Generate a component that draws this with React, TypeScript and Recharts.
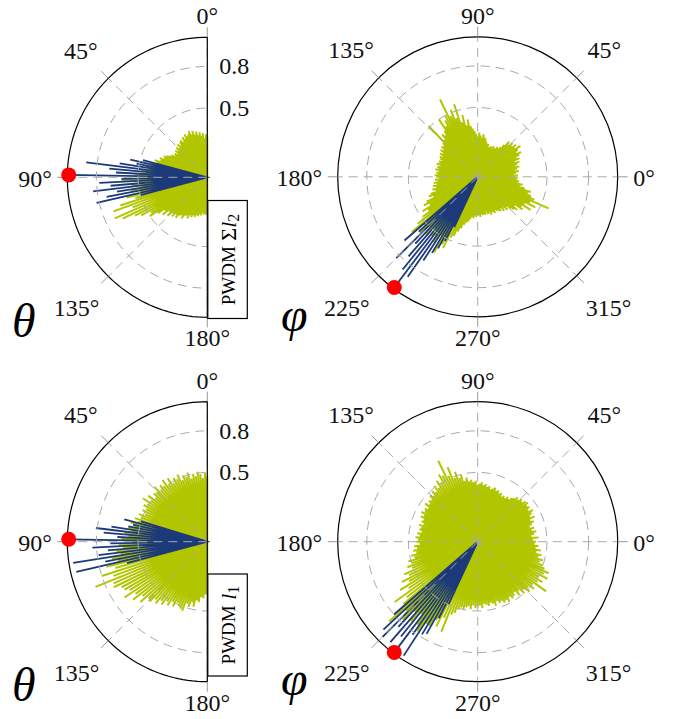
import React from 'react';
import { RadarChart, Radar, PolarGrid, PolarAngleAxis, PolarRadiusAxis } from 'recharts';

// ---------- axes / categories ----------
const R_MAX = 1.01;
const RADIUS_TICKS = [0.5, 0.8];
const THETA_TICKS = [0, 45, 90, 135, 180];
const PHI_TICKS = [0, 45, 90, 135, 180, 225, 270, 315];
const thetaAngles = Array.from({ length: 91 }, (_, i) => i * 2); // 0..180 deg
const phiAngles = Array.from({ length: 180 }, (_, i) => i * 2); // 0..358 deg

// ---------- PWDM Σl2 : theta ----------
const thetaL2Green = [
  0.29, 0.31, 0.28, 0.32, 0.30, 0.33, 0.31, 0.34, 0.32, 0.35,
  0.33, 0.36, 0.34, 0.33, 0.35, 0.32, 0.34, 0.31, 0.33, 0.32,
  0.30, 0.32, 0.29, 0.31, 0.28, 0.30, 0.27, 0.29, 0.28, 0.30,
  0.31, 0.33, 0.35, 0.34, 0.37, 0.36, 0.40, 0.38, 0.42, 0.40,
  0.45, 0.42, 0.48, 0.44, 0.52, 0.47, 0.62, 0.50, 0.55, 0.48,
  0.56, 0.50, 0.60, 0.54, 0.66, 0.72, 0.58, 0.73, 0.68, 0.59,
  0.55, 0.48, 0.50, 0.44, 0.39, 0.42, 0.37, 0.40, 0.36, 0.38,
  0.35, 0.37, 0.34, 0.33, 0.35, 0.32, 0.31, 0.33, 0.30, 0.31,
  0.29, 0.30, 0.28, 0.29, 0.27, 0.28, 0.26, 0.27, 0.26, 0.27,
  0.26,
];
const thetaL2BlueAngles = [75, 77, 79, 81, 83, 85, 87, 89, 91, 93, 95, 97, 99, 101, 103, 105];
const thetaL2Blue = [0.48, 0.57, 0.52, 0.64, 0.88, 0.71, 0.66, 1.0, 0.62, 0.78, 0.70, 0.83, 0.66, 0.74, 0.82, 0.5];

// ---------- PWDM Σl2 : phi ----------
const phiL2Green = [
  0.27, 0.29, 0.26, 0.28, 0.30, 0.27, 0.29, 0.31, 0.28, 0.30,
  0.32, 0.29, 0.33, 0.31, 0.34, 0.36, 0.33, 0.35, 0.38, 0.34,
  0.36, 0.33, 0.35, 0.32, 0.34, 0.30, 0.27, 0.25, 0.26, 0.24,
  0.23, 0.25, 0.22, 0.24, 0.23, 0.22, 0.25, 0.24, 0.26, 0.28,
  0.29, 0.31, 0.28, 0.30, 0.32, 0.29, 0.31, 0.33, 0.35, 0.37,
  0.42, 0.38, 0.46, 0.41, 0.55, 0.45, 0.52, 0.48, 0.62, 0.50,
  0.47, 0.43, 0.50, 0.41, 0.38, 0.40, 0.36, 0.51, 0.35, 0.33,
  0.34, 0.31, 0.33, 0.30, 0.32, 0.29, 0.31, 0.30, 0.28, 0.30,
  0.29, 0.31, 0.28, 0.30, 0.29, 0.31, 0.28, 0.30, 0.29, 0.31,
  0.30, 0.28, 0.31, 0.29, 0.32, 0.30, 0.33, 0.31, 0.34, 0.32,
  0.36, 0.38, 0.35, 0.41, 0.44, 0.40, 0.47, 0.43, 0.49, 0.55,
  0.62, 0.52, 0.58, 0.50, 0.56, 0.48, 0.54, 0.52, 0.57, 0.50,
  0.63, 0.55, 0.57, 0.48, 0.46, 0.42, 0.39, 0.36, 0.34, 0.33,
  0.31, 0.29, 0.30, 0.28, 0.29, 0.27, 0.28, 0.29, 0.27, 0.28,
  0.27, 0.28, 0.26, 0.28, 0.27, 0.29, 0.27, 0.28, 0.29, 0.27,
  0.28, 0.29, 0.30, 0.28, 0.31, 0.29, 0.32, 0.30, 0.33, 0.35,
  0.37, 0.34, 0.40, 0.38, 0.45, 0.39, 0.47, 0.42, 0.56, 0.44,
  0.41, 0.38, 0.40, 0.35, 0.31, 0.33, 0.29, 0.30, 0.28, 0.29,
];
const phiL2BlueAngles = [221, 223, 225, 227, 229, 231, 233, 235, 237, 239, 241, 243, 245];
const phiL2Blue = [0.70, 0.58, 0.83, 0.66, 0.76, 0.86, 1.0, 0.88, 0.72, 0.64, 0.59, 0.52, 0.40];

// ---------- PWDM l1 : theta ----------
const thetaL1Green = [
  0.47, 0.50, 0.46, 0.49, 0.51, 0.48, 0.50, 0.47, 0.52, 0.49,
  0.51, 0.48, 0.53, 0.50, 0.52, 0.49, 0.54, 0.50, 0.55, 0.51,
  0.53, 0.50, 0.55, 0.51, 0.52, 0.49, 0.54, 0.50, 0.56, 0.51,
  0.53, 0.50, 0.52, 0.49, 0.53, 0.51, 0.55, 0.52, 0.57, 0.54,
  0.58, 0.55, 0.60, 0.57, 0.62, 0.59, 0.64, 0.61, 0.66, 0.63,
  0.70, 0.66, 0.75, 0.69, 0.80, 0.72, 0.87, 0.74, 0.75, 0.70,
  0.69, 0.66, 0.72, 0.64, 0.68, 0.61, 0.65, 0.59, 0.60, 0.56,
  0.58, 0.54, 0.56, 0.52, 0.54, 0.50, 0.53, 0.49, 0.51, 0.52,
  0.53, 0.47, 0.49, 0.45, 0.48, 0.43, 0.44, 0.40, 0.41, 0.38,
  0.38,
];
const thetaL1BlueAngles = [73, 75, 77, 79, 81, 83, 85, 87, 89, 91, 93, 95, 97, 99, 101, 103, 105];
const thetaL1Blue = [0.50, 0.62, 0.55, 0.58, 0.70, 0.81, 0.75, 0.65, 1.0, 0.70, 0.83, 0.72, 0.79, 0.98, 0.75, 0.97, 0.60];

// ---------- PWDM l1 : phi ----------
const phiL1Green = [
  0.42, 0.40, 0.44, 0.39, 0.41, 0.43, 0.40, 0.42, 0.39, 0.41,
  0.43, 0.41, 0.45, 0.42, 0.44, 0.46, 0.43, 0.45, 0.44, 0.46,
  0.45, 0.43, 0.44, 0.42, 0.43, 0.41, 0.40, 0.38, 0.39, 0.37,
  0.38, 0.37, 0.39, 0.38, 0.40, 0.39, 0.41, 0.40, 0.39, 0.41,
  0.40, 0.42, 0.41, 0.43, 0.42, 0.41, 0.44, 0.43, 0.45, 0.44,
  0.47, 0.45, 0.50, 0.48, 0.53, 0.49, 0.58, 0.52, 0.65, 0.54,
  0.56, 0.50, 0.53, 0.48, 0.51, 0.47, 0.49, 0.46, 0.48, 0.45,
  0.46, 0.44, 0.47, 0.43, 0.45, 0.44, 0.46, 0.43, 0.45, 0.42,
  0.43, 0.41, 0.44, 0.42, 0.43, 0.41, 0.44, 0.42, 0.45, 0.43,
  0.44, 0.42, 0.46, 0.44, 0.47, 0.45, 0.49, 0.47, 0.52, 0.50,
  0.54, 0.51, 0.58, 0.55, 0.62, 0.57, 0.66, 0.60, 0.74, 0.65,
  0.70, 0.86, 0.72, 0.78, 0.68, 0.75, 0.66, 0.74, 0.78, 0.70,
  0.70, 0.64, 0.68, 0.60, 0.70, 0.56, 0.54, 0.51, 0.49, 0.50,
  0.48, 0.47, 0.49, 0.46, 0.48, 0.47, 0.46, 0.48, 0.45, 0.46,
  0.47, 0.45, 0.46, 0.48, 0.45, 0.47, 0.46, 0.48, 0.47, 0.49,
  0.46, 0.48, 0.47, 0.45, 0.49, 0.46, 0.50, 0.48, 0.52, 0.49,
  0.53, 0.50, 0.61, 0.52, 0.55, 0.51, 0.57, 0.53, 0.56, 0.52,
  0.50, 0.47, 0.49, 0.45, 0.47, 0.43, 0.46, 0.42, 0.44, 0.41,
];
const phiL1BlueAngles = [221, 223, 225, 227, 229, 231, 233, 235, 237, 239, 241, 243, 245];
const phiL1Blue = [0.80, 0.93, 0.97, 0.84, 0.96, 0.88, 1.0, 0.82, 0.98, 0.78, 0.76, 0.62, 0.50];

// ---------- styling ----------
const GREEN = '#b2c600';
const BLUE = '#1c3979';
const GRID = '#a9a9a9';
const FONT = 'Liberation Serif';
const FONT_SIZE = 24;
const RAD = Math.PI / 180;

type Row = { angle: number; g: number; b: number; frame: number; mark: number };

function buildRows(angles: number[], green: number[], blueAngles: number[], blue: number[]): Row[] {
  const maxBlue = Math.max(...blue);
  const spikes: { angle: number; g: number; b: number }[] = [];
  angles.forEach((a, i) => spikes.push({ angle: a, g: green[i] ?? 0, b: 0 }));
  blueAngles.forEach((a, i) => spikes.push({ angle: a, g: 0, b: blue[i] ?? 0 }));
  spikes.sort((p, q) => p.angle - q.angle);
  const rows: Row[] = [];
  spikes.forEach((s) => {
    rows.push({ ...s, frame: R_MAX, mark: s.b === maxBlue ? s.b : 0 });
    rows.push({ angle: s.angle, g: 0, b: 0, frame: R_MAX, mark: 0 });
  });
  return rows;
}

const thetaL2Rows = buildRows(thetaAngles, thetaL2Green, thetaL2BlueAngles, thetaL2Blue);
const phiL2Rows = buildRows(phiAngles, phiL2Green, phiL2BlueAngles, phiL2Blue);
const thetaL1Rows = buildRows(thetaAngles, thetaL1Green, thetaL1BlueAngles, thetaL1Blue);
const phiL1Rows = buildRows(phiAngles, phiL1Green, phiL1BlueAngles, phiL1Blue);

function AngleTick(props: any) {
  const { x, y, payload } = props;
  const a = payload.coordinate;
  const dx = Math.cos(a * RAD);
  const dy = -Math.sin(a * RAD);
  let tx = x;
  let ty = y;
  let anchor: 'start' | 'middle' | 'end' = 'middle';
  if (Math.abs(dx) > 0.3 && Math.abs(dy) > 0.3) {
    const ext = dy > 0 ? 35 : 29;
    tx = x + dx * ext;
    ty = y + dy * ext;
  } else if (Math.abs(dx) > 0.5) {
    tx = x + dx * 5.5;
    ty = y + 1.5;
    anchor = dx > 0 ? 'start' : 'end';
  } else {
    ty = y + dy * 11;
  }
  return (
    <text x={tx} y={ty} textAnchor={anchor} dominantBaseline="central" fontFamily={FONT} fontSize={FONT_SIZE} fill="#111">
      {`${payload.value}°`}
    </text>
  );
}

function RadiusTick(props: any) {
  const { x, y, payload } = props;
  return (
    <text x={x + 12} y={y} textAnchor="start" dominantBaseline="central" fontFamily={FONT} fontSize={FONT_SIZE} fill="#111">
      {String(payload.value)}
    </text>
  );
}

function RedDot(props: any) {
  const p = props.payload || {};
  const v = typeof p.value === 'number' ? p.value : (p.mark ?? p.payload?.mark ?? 0);
  if (!v) return <g key={`e-${props.index}`} />;
  return <circle key={`d-${props.index}`} cx={props.cx} cy={props.cy} r={7.5} fill="#ff0000" stroke="none" />;
}

type PanelProps = { rows: Row[]; half?: boolean; cx: number; cy: number; top: number };

function chartFrame(p: PanelProps) {
  return {
    width: 678,
    height: 360,
    cx: p.cx,
    cy: p.cy,
    innerRadius: 0,
    outerRadius: 140,
    startAngle: p.half ? 90 : 0,
    endAngle: p.half ? 270 : 360,
    data: p.rows,
    margin: { top: 0, right: 0, bottom: 0, left: 0 },
  };
}

// bottom layer: the spikes
function SpikeLayer(p: PanelProps) {
  return (
    <div style={{ position: 'absolute', left: 0, top: p.top, width: 678, height: 360 }}>
      <RadarChart {...chartFrame(p)}>
        <PolarAngleAxis
          dataKey="angle"
          type="number"
          domain={p.half ? [0, 180] : [0, 360]}
          ticks={p.half ? THETA_TICKS : PHI_TICKS}
          axisLine={false}
          tickLine={false}
          tick={false}
        />
        <PolarRadiusAxis angle={90} type="number" domain={[0, R_MAX]} ticks={RADIUS_TICKS} axisLine={false} tickLine={false} tick={false} />
        <Radar dataKey="g" stroke={GREEN} strokeWidth={2} fill="none" dot={false} isAnimationActive={false} />
        <Radar dataKey="b" stroke={BLUE} strokeWidth={1.8} fill="none" dot={false} isAnimationActive={false} />
      </RadarChart>
    </div>
  );
}

// top layer: grid, frame, axes, maximum marker
function AxisLayer(p: PanelProps) {
  return (
    <div style={{ position: 'absolute', left: 0, top: p.top, width: 678, height: 360 }}>
      <RadarChart {...chartFrame(p)}>
        <PolarGrid
          gridType="circle"
          stroke={GRID}
          strokeWidth={1}
          strokeDasharray="9 6"
          clipPath={p.half ? 'url(#halfClip)' : undefined}
        />
        {p.half && (
          <Radar dataKey="frame" stroke="#000" strokeWidth={1.2} fill="none" dot={false} isAnimationActive={false} />
        )}
        <PolarAngleAxis
          dataKey="angle"
          type="number"
          domain={p.half ? [0, 180] : [0, 360]}
          ticks={p.half ? THETA_TICKS : PHI_TICKS}
          axisLine={p.half ? false : { stroke: '#000', strokeWidth: 1.2 }}
          axisLineType="circle"
          tickLine={{ stroke: '#999', strokeWidth: 1 }}
          tickSize={10}
          tick={AngleTick}
        />
        <PolarRadiusAxis
          angle={90}
          type="number"
          domain={[0, R_MAX]}
          ticks={RADIUS_TICKS}
          axisLine={false}
          tickLine={false}
          tick={p.half ? RadiusTick : false}
        />
        <Radar dataKey="mark" stroke="none" fill="none" dot={RedDot} isAnimationActive={false} />
      </RadarChart>
    </div>
  );
}

function LegendBox({ x, y, w, h, main, sub, sigma }: { x: number; y: number; w: number; h: number; main: string; sub: string; sigma?: boolean }) {
  const tx = x + w / 2;
  const ty = y + h / 2;
  return (
    <g>
      <rect x={x} y={y} width={w} height={h} fill="#fff" stroke="#000" strokeWidth={1.2} />
      <text
        x={tx}
        y={ty}
        transform={`rotate(-90, ${tx}, ${ty})`}
        textAnchor="middle"
        dominantBaseline="central"
        fontFamily="Liberation Serif"
        fill="#000"
      >
        <tspan fontSize={19}>PWDM</tspan>
        <tspan fontSize={22}>{sigma ? ' \u03A3' : ' '}</tspan>
        <tspan fontSize={22} fontStyle="italic">{main}</tspan>
        <tspan fontSize={16} dy={5}>{sub}</tspan>
      </text>
    </g>
  );
}

const panels: PanelProps[] = [
  { rows: thetaL2Rows, half: true, cx: 207.3, cy: 177.3, top: 0 },
  { rows: phiL2Rows, cx: 477.7, cy: 176.8, top: 0 },
  { rows: thetaL1Rows, half: true, cx: 207.3, cy: 181.7, top: 360 },
  { rows: phiL1Rows, cx: 477.7, cy: 181.7, top: 360 },
];

const SYMBOL_FONT = 'Liberation Serif';

export default function App() {
  return (
    <div style={{ position: 'absolute', left: 0, top: 0, width: 678, height: 719, background: '#fff', overflow: 'hidden' }}>
      {panels.map((p, i) => (
        <SpikeLayer key={`s${i}`} {...p} />
      ))}
      {panels.map((p, i) => (
        <AxisLayer key={`a${i}`} {...p} />
      ))}
      <svg width={678} height={719} style={{ position: 'absolute', left: 0, top: 0, pointerEvents: 'none' }}>
        <defs>
          <clipPath id="halfClip">
            <rect x={-10} y={-10} width={217.3} height={400} />
          </clipPath>
        </defs>
        <LegendBox x={207.8} y={200.5} w={39.5} h={118} main="l" sub="2" sigma />
        <LegendBox x={207.8} y={574} w={39.5} h={102} main="l" sub="1" />
        <text x={12} y={337} fontFamily={SYMBOL_FONT} fontStyle="italic" fontSize={48} fill="#000">θ</text>
        <text x={281} y={331} fontFamily={SYMBOL_FONT} fontStyle="italic" fontSize={48} fill="#000">φ</text>
        <text x={12} y={701} fontFamily={SYMBOL_FONT} fontStyle="italic" fontSize={48} fill="#000">θ</text>
        <text x={281} y={695} fontFamily={SYMBOL_FONT} fontStyle="italic" fontSize={48} fill="#000">φ</text>
      </svg>
    </div>
  );
}
